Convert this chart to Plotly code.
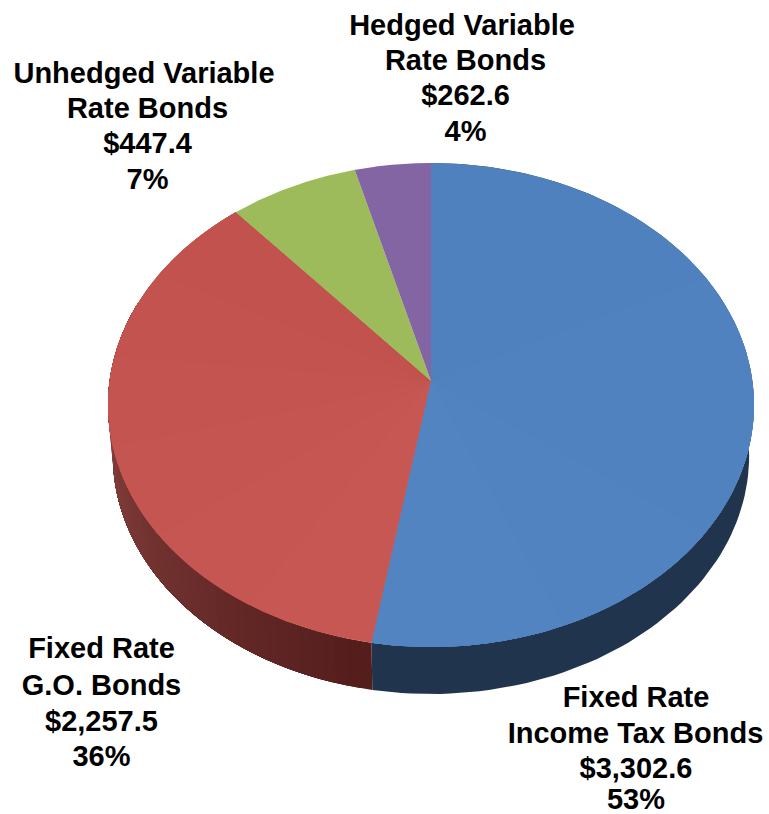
import numpy as np
import plotly.graph_objects as go

# Data
categories = [["Fixed Rate", "Income Tax Bonds"], ["Fixed Rate", "G.O. Bonds"],
              ["Unhedged Variable", "Rate Bonds"], ["Hedged Variable", "Rate Bonds"]]
values = [3302.6, 2257.5, 447.4, 262.6]
value_labels = ["$3,302.6", "$2,257.5", "$447.4", "$262.6"]
pct_labels = ["53%", "36%", "7%", "4%"]

# Styles and layout
top_start = [(79, 129, 190), (198, 87, 82), (157, 187, 91), (132, 101, 163)]
top_end = [(82, 132, 193), (194, 82, 78), (157, 187, 91), (132, 101, 163)]
blue_side = (33, 52, 78)
red_side_dark = (84, 30, 29)
red_side_light = (150, 76, 72)
label_x = [[636, 635.5, 636, 636], [101.5, 101.5, 101.5, 101.5], [144, 147.5, 147.5, 147.5], [462, 465.5, 465.5, 465.5]]
label_y = [[699.5, 735.5, 770.5, 802], [650.5, 687.5, 723.5, 758.5], [75.5, 110.5, 145.5, 181.5], [27.5, 62.5, 97.5, 133.5]]
CX, CY, A, B, K = 431.0, 381.0, 321.4, 239.6, 0.0992
DZ, S = 51.0, 0.985
W, H = 769, 814


def project(theta, scale=1.0, dz=0.0):
    u, v = np.sin(theta), np.cos(theta)
    d = 1 + K * v
    return CX + scale * A * u / d, CY + dz - scale * B * v / d


total = sum(values)
edges = np.concatenate([[0], np.cumsum(values)]) / total * 2 * np.pi
fig = go.Figure()


def rgb(c):
    return "rgb(%d,%d,%d)" % tuple(c)


def mix(c0, c1, g):
    return [int(c0[k] + (c1[k] - c0[k]) * g) for k in range(3)]


def poly(x, y, color):
    fig.add_trace(go.Scatter(x=list(x), y=list(y), mode="lines", fill="toself",
                             fillcolor=color, line=dict(color=color, width=0),
                             hoverinfo="skip", showlegend=False))


def wall(a0, a1, color):
    ts = np.linspace(a0, a1, 120)
    x1, y1 = project(ts)
    x2, y2 = project(ts[::-1], S, DZ)
    poly(np.r_[x1, x2], np.r_[y1, y2], rgb(color))


# Side wall: blue is flat, red darkens toward the bottom. Each step paints over
# the rest of the slice, so there are no seams between steps.
wall(edges[0], edges[1], blue_side)
limit = min(edges[2], np.radians(290))
steps = np.linspace(edges[1], limit, 50)
for j, t in enumerate(steps[:-1]):
    wall(t, limit, mix(red_side_dark, red_side_light, j / (len(steps) - 2)))

# Top faces, with a faint shift of shade across each slice
for i in range(4):
    n = 6 if i < 2 else 1
    starts = np.linspace(edges[i], edges[i + 1], n + 1)[:-1]
    for j, t in enumerate(starts):
        ts = np.linspace(t, edges[i + 1], 240)
        x, y = project(ts)
        poly(np.r_[CX, x, CX], np.r_[CY, y, CY],
             rgb(mix(top_start[i], top_end[i], j / max(n - 1, 1))))

# Labels
for i in range(4):
    lines = categories[i] + [value_labels[i], pct_labels[i]]
    fig.add_trace(go.Scatter(x=label_x[i], y=label_y[i], mode="text",
                             text=["<b>" + s + "</b>" for s in lines],
                             textposition="middle center", hoverinfo="skip", showlegend=False,
                             cliponaxis=False,
                             textfont=dict(family="Liberation Sans", size=29, color="black")))

fig.update_layout(width=W, height=H, margin=dict(l=0, r=0, t=0, b=0),
                  paper_bgcolor="white", plot_bgcolor="white", showlegend=False,
                  xaxis=dict(range=[0, W], visible=False, fixedrange=True),
                  yaxis=dict(range=[H, 0], visible=False, fixedrange=True))
fig.write_html("out.html", config=dict(displayModeBar=False),
               post_script="document.body.style.margin='0';document.documentElement.style.overflow='hidden';")
